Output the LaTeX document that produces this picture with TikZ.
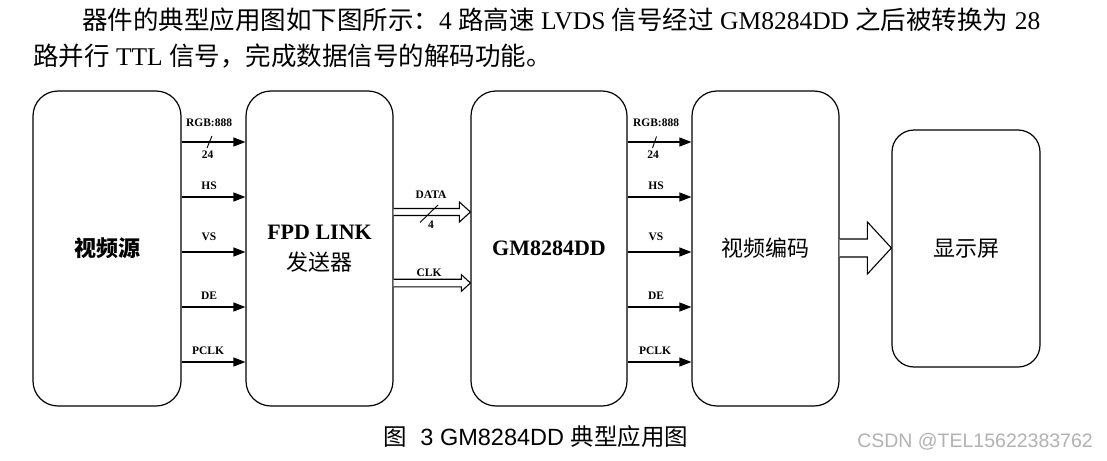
\documentclass[tikz,border=0pt]{standalone}
\usepackage{fontspec}
\setmainfont{Liberation Serif}
\newfontfamily\cjk{Noto Sans CJK SC}
\newfontfamily\arialf{Liberation Sans}
\usetikzlibrary{arrows.meta,calc}
\begin{document}
\begin{tikzpicture}[x=1pt,y=-1pt,
  box/.style={draw, line width=1.2pt, rounded corners=25pt, inner sep=0pt},
  sig/.style={line width=1.2pt, -{Triangle[length=12pt,width=9pt]}},
  lbl/.style={font=\fontsize{11.5}{13}\selectfont\bfseries, inner sep=0pt},
  slashmark/.style={line width=0.9pt},
  hollow/.style={line width=1.1pt, fill=white, line join=miter},
  boxtext/.style={font=\fontsize{22}{31}\selectfont, align=center}
]
\fill[white] (0,0) rectangle (1107,460);
\useasboundingbox (0,0) rectangle (1107,460);

% intro text
\node[anchor=base west, inner sep=0pt, font=\fontsize{25.5}{30}\selectfont] (intro1) at (82,30)
  {{\cjk 器件的典型应用图如下图所示：}4 {\cjk 路高速} LVDS {\cjk 信号经过} GM8284DD {\cjk 之后被转换为} 28};
\node[anchor=base west, inner sep=0pt, font=\fontsize{25.5}{30}\selectfont] (intro2) at (33,66)
  {{\cjk 路并行} TTL {\cjk 信号，完成数据信号的解码功能。}};

% boxes
\node[box, boxtext, minimum width=148pt, minimum height=315pt] (src) at (107,248.5) {{\cjk\bfseries 视频源}};
\node[box, boxtext, minimum width=147pt, minimum height=315pt] (fpd) at (319.5,248.5) {{\bfseries FPD LINK}\\{\cjk 发送器}};
\node[box, boxtext, minimum width=156pt, minimum height=315pt] (gm) at (549,248.5) {{\bfseries GM8284DD}};
\node[box, boxtext, minimum width=147pt, minimum height=315pt] (enc) at (765.5,248.5) {{\cjk 视频编码}};
\node[box, boxtext, rounded corners=22pt, minimum width=148pt, minimum height=237pt] (scr) at (966,248.5) {{\cjk 显示屏}};

% signal levels
\coordinate (s1) at (0,142);
\coordinate (s2) at (0,197);
\coordinate (s3) at (0,252);
\coordinate (s4) at (0,307);
\coordinate (s5) at (0,362);
\foreach \s in {s1,s2,s3,s4,s5}{
  \draw[sig] (src.east |- \s) -- (fpd.west |- \s);
  \draw[sig] (gm.east |- \s) -- (enc.west |- \s);
}

% left labels
\node[lbl] (l1) at (209,123) {RGB:888};
\node[lbl] (l1b) at (207.5,155) {24};
\draw[slashmark] (207,148) -- (212,136);
\node[lbl] (l2) at (209,186) {HS};
\node[lbl] (l3) at (209,237) {VS};
\node[lbl] (l4) at (209,296) {DE};
\node[lbl] (l5) at (208,351) {PCLK};

% right labels
\node[lbl] (r1) at (656,123) {RGB:888};
\node[lbl] (r1b) at (653,155) {24};
\draw[slashmark] (652.5,148) -- (656.5,136.5);
\node[lbl] (r2) at (656,186) {HS};
\node[lbl] (r3) at (656,237) {VS};
\node[lbl] (r4) at (656,296) {DE};
\node[lbl] (r5) at (655,351) {PCLK};

% LVDS hollow arrows
\coordinate (dc) at (0,212);
\coordinate (cc) at (0,283);
\coordinate (bc) at (0,248);
\draw[hollow] let \p1=(fpd.east |- dc), \p2=(gm.west |- dc) in
  (\x1,{\y1+3.5pt}) -- ({\x2-11pt},{\y1+3.5pt}) -- ({\x2-11pt},{\y1+10pt}) -- (\x2,\y1)
  -- ({\x2-11pt},{\y1-10pt}) -- ({\x2-11pt},{\y1-3.5pt}) -- (\x1,{\y1-3.5pt});
\draw[hollow] let \p1=(fpd.east |- cc), \p2=(gm.west |- cc) in
  (\x1,{\y1+3.8pt}) -- ({\x2-9pt},{\y1+3.8pt}) -- ({\x2-9pt},{\y1+8.3pt}) -- (\x2,\y1)
  -- ({\x2-9pt},{\y1-8.3pt}) -- ({\x2-9pt},{\y1-3.8pt}) -- (\x1,{\y1-3.8pt});
\node[lbl] (dl) at (431,195) {DATA};
\node[lbl] (dn) at (431,225) {4};
\draw[slashmark] (420,222.5) -- (438,205);
\node[lbl] (cl) at (429,273) {CLK};

% big arrow
\draw[hollow] let \p1=(enc.east |- bc), \p2=(scr.west |- bc) in
  (\x1,{\y1+9pt}) -- ({\x2-24pt},{\y1+9pt}) -- ({\x2-24pt},{\y1+26pt}) -- (\x2,\y1)
  -- ({\x2-24pt},{\y1-26pt}) -- ({\x2-24pt},{\y1-9pt}) -- (\x1,{\y1-9pt});

% caption
\node[inner sep=0pt, font=\arialf\fontsize{23.5}{27}\selectfont] (cap) at (536,437)
  {{\cjk 图}\ \ 3 GM8284DD {\cjk 典型应用图}};
\node[anchor=east, inner sep=0pt, text=black!30, font=\arialf\fontsize{19.5}{22}\selectfont] (wm) at (1093,442)
  {CSDN @TEL15622383762};
\end{tikzpicture}
\end{document}
